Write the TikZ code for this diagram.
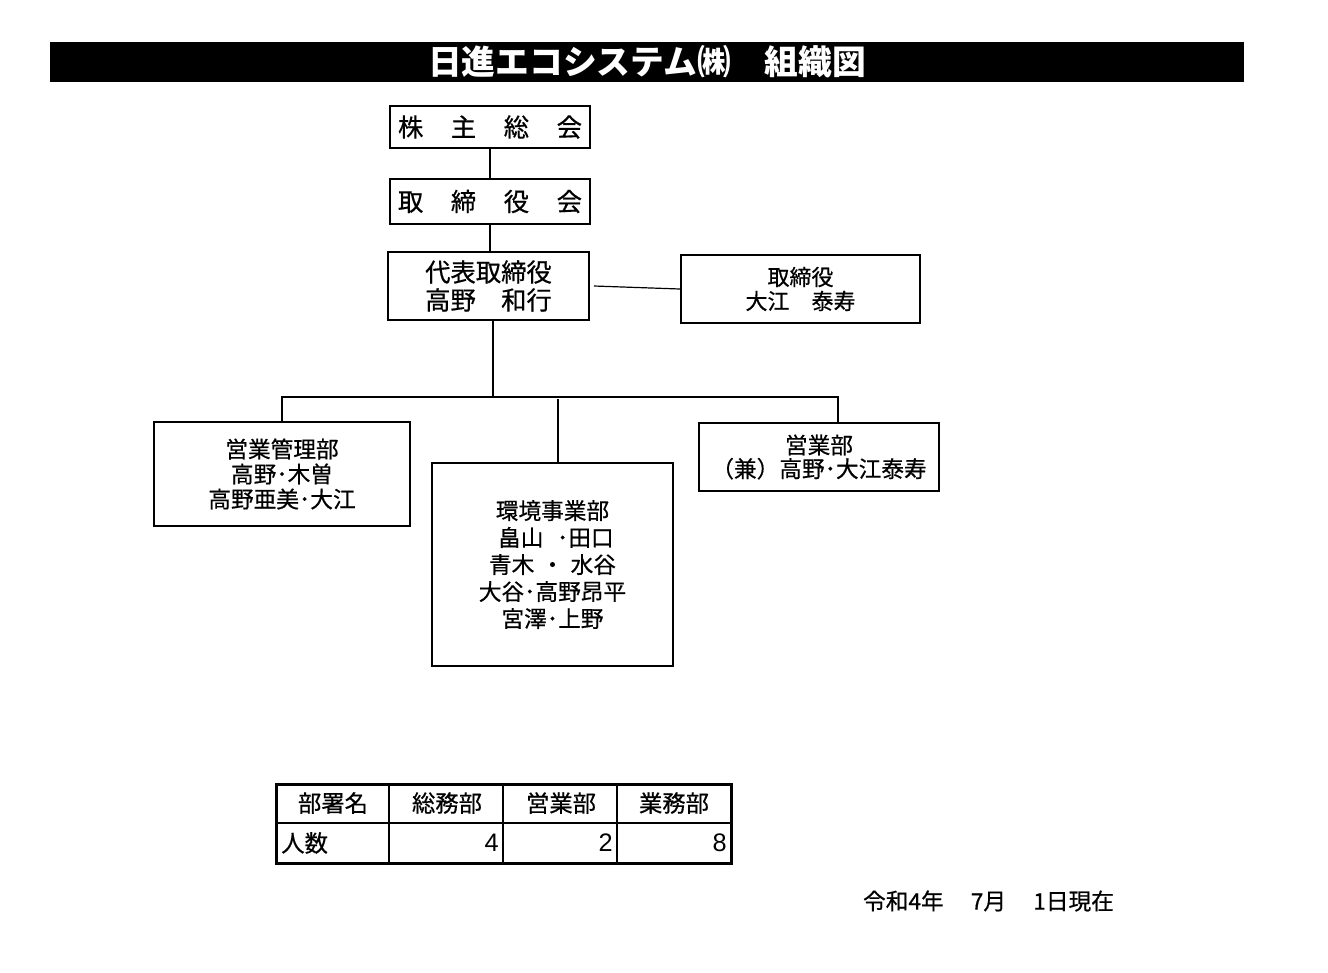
\documentclass[tikz,border=0pt]{standalone}
\usepackage{fontspec}
\setmainfont{Noto Sans CJK JP}
\newfontfamily\heavycjk{Noto Sans CJK JP}[FakeBold=0.6]
\newfontfamily\digitfont{Liberation Sans}
\usetikzlibrary{calc}
\newlength\pxu \setlength\pxu{0.75pt}
\begin{document}
\begin{tikzpicture}[x=0.75pt,y=-0.75pt,
  box/.style={draw, line width=1.5pt, inner sep=0pt, align=center},
  conn/.style={line width=1.5pt},
  topfont/.style={font=\heavycjk\fontsize{19}{21}\selectfont},
  midfont/.style={font=\heavycjk\fontsize{16.5}{18}\selectfont},
  deptfont/.style={font=\heavycjk\fontsize{17}{18.75}\selectfont},
  tabfont/.style={font=\heavycjk\fontsize{17.5}{20}\selectfont},
  numfont/.style={font=\digitfont\fontsize{19}{21}\selectfont},
]
\useasboundingbox (0,0) rectangle (1328,972);

% title
\node[fill=black, text=white, inner sep=0pt, minimum width=1194\pxu, minimum height=40\pxu,
  font=\bfseries\fontsize{25.3}{30}\selectfont] (title) at (647,62) {日進エコシステム㈱　組織図};

% boxes
\node[box, topfont, minimum width=200\pxu, minimum height=42\pxu] (kabu) at (490,127)
  {\makebox[184\pxu][s]{株\hfill 主\hfill 総\hfill 会}};
\node[box, topfont, minimum width=200\pxu, minimum height=45\pxu] (tori) at (490,201.5)
  {\makebox[184\pxu][s]{取\hfill 締\hfill 役\hfill 会}};
\node[box, topfont, minimum width=201\pxu, minimum height=68\pxu] (daihyo) at (488.5,286)
  {代表取締役\\高野　和行};
\node[box, midfont, minimum width=239\pxu, minimum height=68\pxu] (torishimari) at (800.5,289)
  {取締役\\大江　泰寿};
\node[box, deptfont, minimum width=256\pxu, minimum height=104\pxu] (eigyokanri) at (282,474)
  {営業管理部\\高野･木曽\\高野亜美･大江};
\node[box, deptfont, font=\heavycjk\fontsize{17}{20.25}\selectfont, minimum width=241\pxu, minimum height=203\pxu] (kankyo) at (552.5,564.5)
  {環境事業部\\\hspace*{0.3em}畠山\hspace{0.6em}･田口\\青木\hspace{0.3em}・\hspace{0.3em}水谷\\大谷･高野昂平\\宮澤･上野};
\node[box, deptfont, minimum width=240\pxu, minimum height=68\pxu] (eigyo) at (819,457)
  {営業部\\[-1pt]（兼）高野･大江泰寿};

% connectors
\coordinate (bus) at (493,397);
\draw[conn] (kabu.south) -- (tori.north);
\draw[conn] (tori.south) -- (tori.south |- daihyo.north);
\draw[line width=0.9pt] ($(daihyo.east)+(4,0)$) -- (torishimari.west);
\draw[conn] (daihyo.south -| bus) -- (bus);
\draw[conn] (eigyokanri.north) -- (eigyokanri.north |- bus) -- ($(eigyo.north |- bus)+(19,0)$) -- ($(eigyo.north)+(19,0)$);
\draw[conn] ($(kankyo.north |- bus)+(5.5,2)$) -- ($(kankyo.north)+(5.5,0)$);

% table
\draw[line width=2.25pt] (276,784) rectangle (731,863);
\draw[line width=1pt] (276,823) -- (731,823)
  (389,784) -- (389,863) (503,784) -- (503,863) (617,784) -- (617,863);
\node[tabfont] (h1) at (333,803) {部署名};
\node[tabfont] (h2) at (447,803) {総務部};
\node[tabfont] (h3) at (561,803) {営業部};
\node[tabfont] (h4) at (674,803) {業務部};
\node[tabfont, anchor=west, inner sep=0pt] (r1) at (281,843) {人数};
\node[numfont, anchor=east, inner sep=0pt] (n1) at (499,843) {4};
\node[numfont, anchor=east, inner sep=0pt] (n2) at (613,843) {2};
\node[numfont, anchor=east, inner sep=0pt] (n3) at (727,843) {8};

% date
\node[font=\heavycjk\fontsize{17}{20}\selectfont] (date) at (988.5,901) {令和4年\hspace{1.2em}7月\hspace{1.2em}1日現在};
\end{tikzpicture}
\end{document}
